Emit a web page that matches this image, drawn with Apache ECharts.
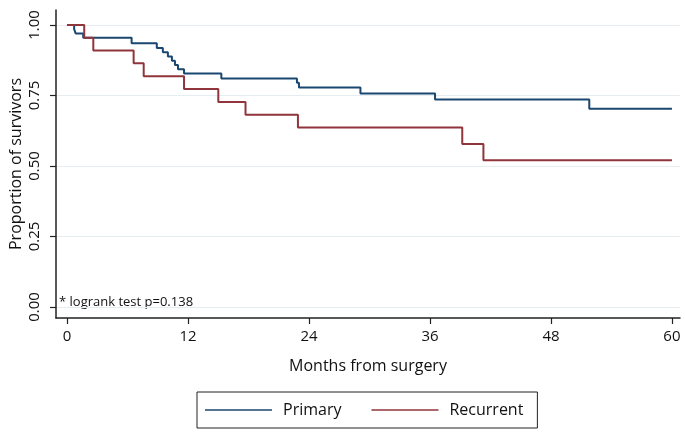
<!DOCTYPE html>
<html>
<head>
<meta charset="utf-8">
<script src="https://cdn.jsdelivr.net/npm/echarts@6/dist/echarts.min.js"></script>
<style>html,body{margin:0;padding:0;background:#fff}#c{width:685px;height:436px}</style>
</head>
<body>
<div id="c"></div>
<script>
const primaryTimes = [0, 0.7, 0.85, 1.6, 6.4, 8.9, 9.5, 10.0, 10.4, 10.7, 11.0, 11.6, 15.3, 22.8, 23.0, 29.1, 36.5, 51.8, 60];
const primarySurv  = [1, 0.985, 0.97, 0.955, 0.935, 0.918, 0.903, 0.888, 0.873, 0.858, 0.843, 0.828, 0.81, 0.795, 0.778, 0.757, 0.736, 0.703, 0.703];
const recurrentTimes = [0, 1.7, 2.6, 6.6, 7.6, 11.6, 15.0, 17.7, 22.9, 39.2, 41.3, 60];
const recurrentSurv  = [1, 0.955, 0.909, 0.864, 0.818, 0.773, 0.727, 0.682, 0.636, 0.578, 0.520, 0.520];
const xTicks = [0, 12, 24, 36, 48, 60];
const yTicks = [0, 0.25, 0.5, 0.75, 1];
const yTickLabels = ['0.00', '0.25', '0.50', '0.75', '1.00'];
const seriesNames = ['Primary', 'Recurrent'];
const colors = ['#1a476f', '#90353b'];
const noteText = '* logrank test p=0.138';

function stepData(ts, ss) {
  const out = [[ts[0], ss[0]]];
  for (let i = 1; i < ts.length; i++) {
    out.push([ts[i], ss[i - 1]]);
    out.push([ts[i], ss[i]]);
  }
  return out;
}

const FONT = 'Open Sans';
const chart = echarts.init(document.getElementById('c'), null, {renderer: 'canvas'});
chart.setOption({
  animation: false,
  backgroundColor: '#fff',
  textStyle: {fontFamily: FONT},
  grid: {left: 56, right: 5, top: 10, bottom: 118, containLabel: false, outerBoundsMode: 'none'},
  xAxis: {
    type: 'value', min: -1.1, max: 60.8,
    name: 'Months from surgery', nameLocation: 'middle', nameGap: 40, nameMoveOverlap: false,
    nameTextStyle: {fontSize: 16, color: '#111', fontFamily: FONT},
    axisLine: {onZero: false, lineStyle: {color: '#222', width: 1.5}},
    axisTick: {show: true, length: 6, customValues: xTicks, lineStyle: {color: '#222', width: 1.2}},
    axisLabel: {customValues: xTicks, fontSize: 15, color: '#111', margin: 11, fontFamily: FONT},
    splitLine: {show: false}
  },
  yAxis: {
    type: 'value', min: -0.039, max: 1.053,
    name: 'Proportion of survivors', nameLocation: 'middle', nameGap: 32, nameRotate: 90, nameMoveOverlap: false,
    nameTextStyle: {fontSize: 16, color: '#111', fontFamily: FONT},
    axisLine: {show: true, onZero: false, lineStyle: {color: '#222', width: 1.5}},
    axisTick: {show: true, length: 6, customValues: yTicks, lineStyle: {color: '#222', width: 1.2}},
    axisLabel: {customValues: yTicks, rotate: 90, fontSize: 15, color: '#111', margin: 14, fontFamily: FONT,
      formatter: v => yTickLabels[yTicks.indexOf(v)] !== undefined ? yTickLabels[yTicks.indexOf(v)] : v.toFixed(2)},
    splitLine: {show: true, lineStyle: {color: '#e6edf1', width: 1}}
  },
  legend: {
    left: 197, top: 392, width: 343,
    data: seriesNames,
    icon: 'rect', itemWidth: 67, itemHeight: 1.6, itemGap: 30,
    padding: [10, 14, 10, 8],
    borderColor: '#222', borderWidth: 1,
    textStyle: {fontSize: 16, color: '#111', fontFamily: FONT, padding: [0, 0, 0, 6]}
  },
  graphic: [{
    type: 'text', left: 59, top: 296,
    style: {text: noteText, fontSize: 13, fill: '#111', fontFamily: FONT}
  }],
  series: [
    {name: seriesNames[0], type: 'line', data: stepData(primaryTimes, primarySurv), showSymbol: false, symbol: 'none',
      lineStyle: {color: colors[0], width: 2}, itemStyle: {color: colors[0]}},
    {name: seriesNames[1], type: 'line', data: stepData(recurrentTimes, recurrentSurv), showSymbol: false, symbol: 'none',
      lineStyle: {color: colors[1], width: 2}, itemStyle: {color: colors[1]}}
  ]
});
</script>
</body>
</html>
